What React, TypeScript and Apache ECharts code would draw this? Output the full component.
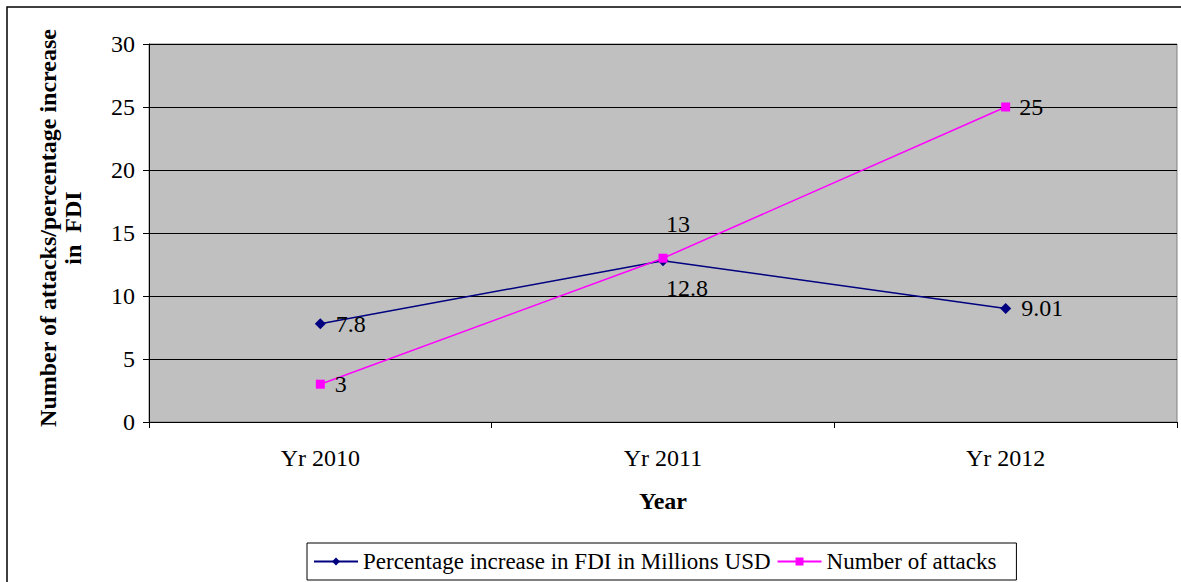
import React, { useEffect, useRef } from "react";
import * as echarts from "echarts";

const categories = ["Yr 2010", "Yr 2011", "Yr 2012"];
const fdiIncrease = [7.8, 12.8, 9.01];
const attacks = [3, 13, 25];
const fdiLabelPos = ["right", "bottom", "right"];
const fdiLabelOffset = [[0, 0], [24, 0], [0, 0]];
const attackLabelPos = ["right", "top", "right"];
const attackLabelOffset = [[0, 0], [15, -8], [-1, 0]];

const FONT = "Liberation Serif";

export default function App() {
  const ref = useRef<HTMLDivElement>(null);
  useEffect(() => {
    if (!ref.current) return;
    const chart = echarts.init(ref.current, null, { renderer: "svg" });
    chart.setOption({
      animation: false,
      textStyle: { fontFamily: FONT, color: "#000" },
      graphic: [
        {
          type: "rect",
          shape: { x: 7, y: 7, width: 1180, height: 580 },
          style: { fill: "none", stroke: "#000", lineWidth: 1.5 },
          z: -10,
        },
      ],
      grid: {
        left: 149,
        right: 4,
        top: 44,
        bottom: 160,
        show: true,
        backgroundColor: "#C0C0C0",
        borderColor: "#808080",
        borderWidth: 1,
      },
      legend: {
        bottom: 2,
        left: 307,
        itemWidth: 44,
        itemHeight: 10,
        itemGap: 6,
        padding: [7, 20, 7, 6],
        borderColor: "#000",
        borderWidth: 1,
        textStyle: { fontFamily: FONT, fontSize: 23, color: "#000" },
        data: ["Percentage increase in FDI in Millions USD", "Number of attacks"],
      },
      xAxis: {
        type: "category",
        data: categories,
        boundaryGap: true,
        name: "Year",
        nameLocation: "middle",
        nameGap: 67,
        nameTextStyle: { fontFamily: FONT, fontSize: 24, fontWeight: "bold", color: "#000" },
        axisLine: { lineStyle: { color: "#000", width: 1 } },
        axisTick: { show: true, length: 6, lineStyle: { color: "#000" } },
        axisLabel: { fontFamily: FONT, fontSize: 24, color: "#000", margin: 24 },
      },
      yAxis: {
        type: "value",
        min: 0,
        max: 30,
        interval: 5,
        name: "Number of attacks/percentage increase\nin  FDI",
        nameLocation: "middle",
        nameGap: 64,
        nameTextStyle: {
          fontFamily: FONT,
          fontSize: 24,
          fontWeight: "bold",
          color: "#000",
          lineHeight: 25,
          padding: [0, 0, 0, 10],
        },
        axisLine: { show: true, lineStyle: { color: "#000" } },
        axisTick: { show: true, length: 6, lineStyle: { color: "#000" } },
        axisLabel: { fontFamily: FONT, fontSize: 24, color: "#000", margin: 14 },
        splitLine: { show: true, lineStyle: { color: "#000", width: 1 } },
      },
      series: [
        {
          name: "Percentage increase in FDI in Millions USD",
          type: "line",
          data: fdiIncrease.map((v, i) => ({
            value: v,
            label: { position: fdiLabelPos[i] as any, offset: fdiLabelOffset[i] },
          })),
          symbol: "diamond",
          symbolSize: 11,
          lineStyle: { color: "#000080", width: 1.5 },
          itemStyle: { color: "#000080" },
          label: {
            show: true,
            fontFamily: FONT,
            fontSize: 24,
            color: "#000",
            distance: 10,
          },
          z: 2,
        },
        {
          name: "Number of attacks",
          type: "line",
          data: attacks.map((v, i) => ({
            value: v,
            label: { position: attackLabelPos[i] as any, offset: attackLabelOffset[i] },
          })),
          symbol: "rect",
          symbolSize: 9,
          lineStyle: { color: "#FF00FF", width: 1.5 },
          itemStyle: { color: "#FF00FF" },
          label: {
            show: true,
            fontFamily: FONT,
            fontSize: 24,
            color: "#000",
            distance: 10,
          },
          z: 3,
        },
      ],
    });
    return () => chart.dispose();
  }, []);
  return (
    <div
      ref={ref}
      style={{ position: "absolute", left: 0, top: 0, width: 1181, height: 582 }}
    />
  );
}
